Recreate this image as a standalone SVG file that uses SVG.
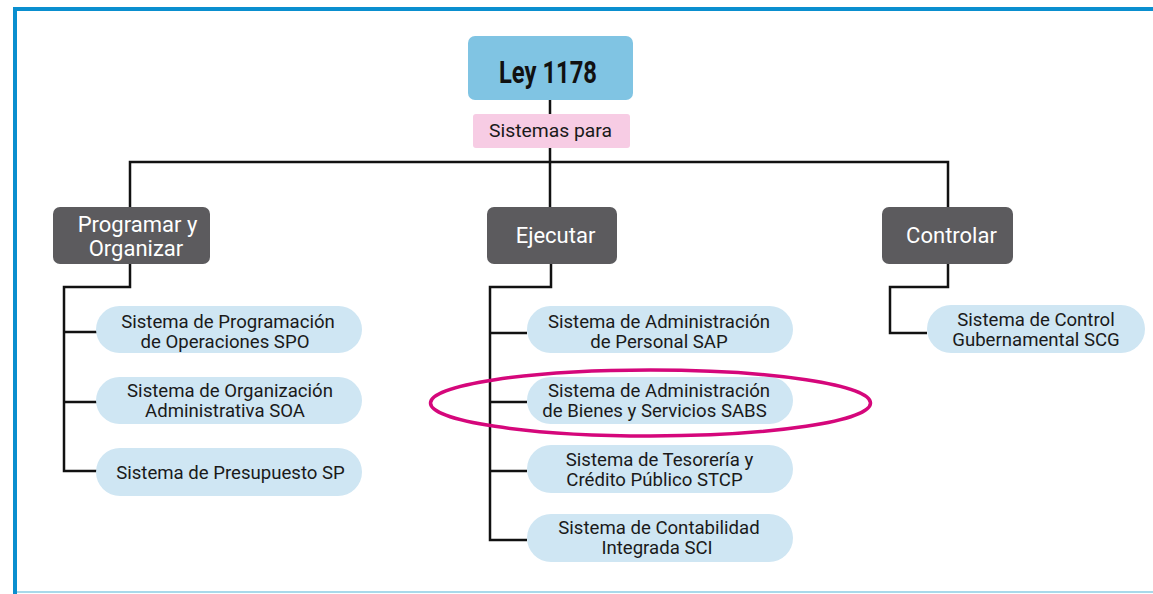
<svg xmlns="http://www.w3.org/2000/svg" width="1153" height="594" viewBox="0 0 1153 594">
<style>
.frame{fill:#0a8fcf}
.con{fill:none;stroke:#111;stroke-width:2.5;stroke-linejoin:miter}
.dark{fill:#5c5b5e}
.pill{fill:#cfe6f3}
.wt{font-family:Roboto,"Liberation Sans",sans-serif;font-size:22px;fill:#ffffff;text-anchor:middle}
.pt{font-family:Roboto,"Liberation Sans",sans-serif;font-size:18.6px;fill:#1a1a1a;text-anchor:middle}
</style>
<rect width="1153" height="594" fill="#ffffff"/>
<g id="frame">
<rect class="frame" x="13" y="7" width="1140" height="4"/>
<rect class="frame" x="13" y="7" width="4" height="587"/>
<rect x="17" y="591" width="1136" height="2" fill="#a9d9ea"/>
</g>
<g id="connectors">
<path class="con" d="M550 100V207M130 207V162H948V207"/>
<path class="con" d="M130 264V287H64V471H100M64 332H100M64 402H100"/>
<path class="con" d="M551 264V287H490V540H527M490 333H527M490 402H527M490 471H527"/>
<path class="con" d="M948 264V287H890V333H927"/>
</g>
<g id="ley">
<rect x="468" y="36" width="165" height="64" rx="7" fill="#80c4e3"/>
<text x="548" y="83" font-family="Roboto,'Liberation Sans',sans-serif" font-size="31" font-weight="bold" fill="#111" text-anchor="middle" textLength="98" lengthAdjust="spacingAndGlyphs">Ley 1178</text>
</g>
<g id="sistemas-para">
<rect x="473" y="114" width="157" height="34" rx="3" fill="#f7cce4"/>
<text x="550.5" y="137" font-family="Roboto,'Liberation Sans',sans-serif" font-size="19" fill="#1a1a1a" text-anchor="middle" textLength="123" lengthAdjust="spacingAndGlyphs">Sistemas para</text>
</g>
<g id="programar">
<rect class="dark" x="53" y="207" width="157" height="57" rx="7"/>
<text class="wt"><tspan x="137.5" y="231.5">Programar y</tspan><tspan x="136" y="255.5">Organizar</tspan></text>
</g>
<g id="ejecutar">
<rect class="dark" x="487" y="207" width="130" height="57" rx="7"/>
<text class="wt" x="555.5" y="243">Ejecutar</text>
</g>
<g id="controlar">
<rect class="dark" x="882" y="207" width="131" height="57" rx="7"/>
<text class="wt" x="951.5" y="243">Controlar</text>
</g>
<g id="spo">
<rect class="pill" x="96" y="306" width="266" height="47" rx="23.5"/>
<text class="pt"><tspan x="228" y="327.5">Sistema de Programación</tspan><tspan x="225" y="347.5">de Operaciones SPO</tspan></text>
</g>
<g id="soa">
<rect class="pill" x="96" y="377" width="266" height="47" rx="23.5"/>
<text class="pt"><tspan x="230" y="396.5">Sistema de Organización</tspan><tspan x="225" y="416.5">Administrativa SOA</tspan></text>
</g>
<g id="sp">
<rect class="pill" x="96" y="448" width="266" height="48" rx="24"/>
<text class="pt" x="230.5" y="479">Sistema de Presupuesto SP</text>
</g>
<g id="sap">
<rect class="pill" x="527" y="306" width="266" height="47" rx="23.5"/>
<text class="pt"><tspan x="659" y="327.5">Sistema de Administración</tspan><tspan x="659" y="347.5">de Personal SAP</tspan></text>
</g>
<g id="sabs">
<rect class="pill" x="527" y="377" width="266" height="47" rx="23.5"/>
<text class="pt"><tspan x="659" y="396.5">Sistema de Administración</tspan><tspan x="654.5" y="416.5">de Bienes y Servicios SABS</tspan></text>
</g>
<g id="stcp">
<rect class="pill" x="527" y="445" width="266" height="48" rx="24"/>
<text class="pt"><tspan x="659.5" y="465.5">Sistema de Tesorería y</tspan><tspan x="654.5" y="485.5">Crédito Público STCP</tspan></text>
</g>
<g id="sci">
<rect class="pill" x="527" y="514" width="266" height="48" rx="24"/>
<text class="pt"><tspan x="659" y="534">Sistema de Contabilidad</tspan><tspan x="657" y="554">Integrada SCI</tspan></text>
</g>
<g id="scg">
<rect class="pill" x="927" y="305" width="218" height="48" rx="24"/>
<text class="pt"><tspan x="1036" y="325.5">Sistema de Control</tspan><tspan x="1036" y="345.5">Gubernamental SCG</tspan></text>
</g>
<g id="highlight">
<ellipse cx="650.5" cy="403" rx="220" ry="33" fill="none" stroke="#d5077b" stroke-width="3.5"/>
</g>
</svg>
